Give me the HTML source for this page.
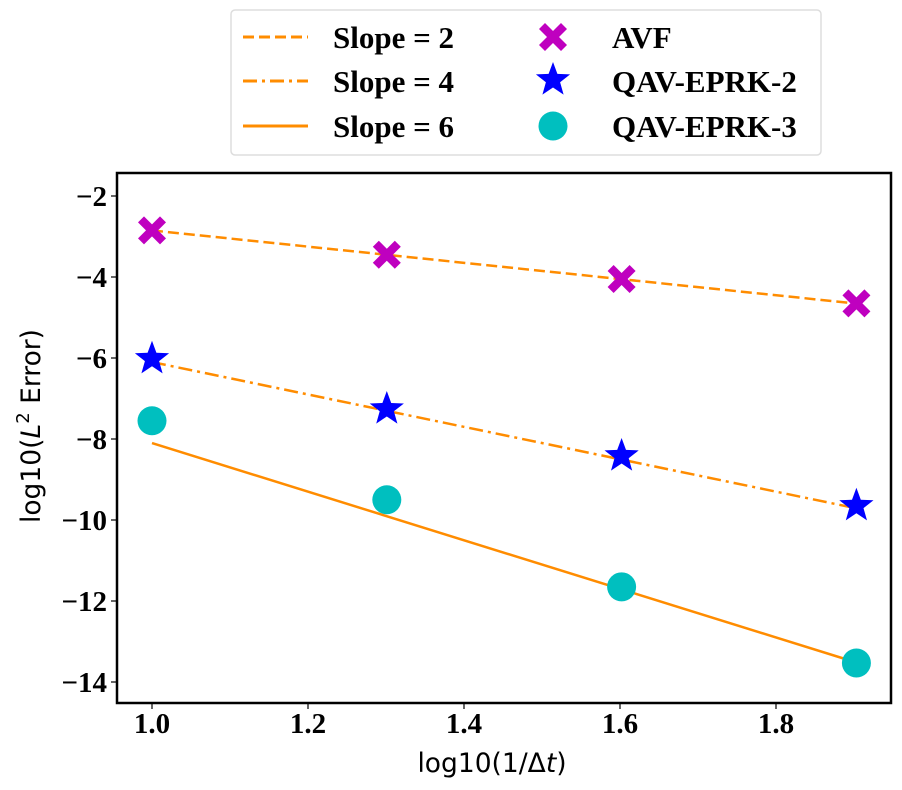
<!DOCTYPE html>
<html><head><meta charset="utf-8"><style>
html,body{margin:0;padding:0;background:#fff;}
svg{display:block;}
.tk{font-family:"Liberation Serif",serif;font-weight:bold;font-size:29px;fill:#000;}
.lg{font-family:"Liberation Serif",serif;font-weight:bold;font-size:31px;fill:#000;}
.al{font-family:"DejaVu Sans",sans-serif;font-size:26.5px;fill:#000;}
</style></head><body>
<svg id="chart" width="902" height="790" viewBox="0 0 902 790" xmlns="http://www.w3.org/2000/svg">
<rect x="0" y="0" width="902" height="790" fill="#fff"/>
<g id="plot"></g>
<rect x="117" y="173" width="774" height="530" fill="none" stroke="#000" stroke-width="2.5"/>
<g id="xt"></g>
<g id="yt"></g>
<text class="al" x="492" y="772" text-anchor="middle">log10(1/Δ<tspan font-style="italic">t</tspan>)</text>
<text class="al" transform="translate(40,426) rotate(-90)" text-anchor="middle">log10(<tspan font-style="italic">L</tspan><tspan dy="-11" font-size="18">2</tspan><tspan dy="11"> Error)</tspan></text>
<g>
<rect x="231" y="10" width="590" height="145" rx="4" fill="#fff" stroke="#ddd" stroke-width="1.5"/>
<g><line x1="243" y1="37" x2="308" y2="37" stroke="#ff8c00" stroke-width="3" stroke-dasharray="11,5"/><text class="lg" x="333" y="48">Slope = 2</text></g>
<g><line x1="243" y1="81" x2="308" y2="81" stroke="#ff8c00" stroke-width="3" stroke-dasharray="14,5,3,5"/><text class="lg" x="333" y="92">Slope = 4</text></g>
<g><line x1="243" y1="126" x2="308" y2="126" stroke="#ff8c00" stroke-width="3"/><text class="lg" x="333" y="137">Slope = 6</text></g>
<g id="lgm"></g>
<text class="lg" x="612" y="48">AVF</text>
<text class="lg" x="612" y="92">QAV-EPRK-2</text>
<text class="lg" x="612" y="137">QAV-EPRK-3</text>
</g>
</svg>
<script>
const xValues = [1.0, 1.30103, 1.60206, 1.90309];
const avf = [-2.85, -3.45, -4.05, -4.65];
const qav2 = [-6.02, -7.26, -8.42, -9.65];
const qav3 = [-7.55, -9.5, -11.65, -13.53];
const refSlopes = [2, 4, 6];
const refIntercepts = [-2.85, -6.1, -8.1];
const xTicks = [1.0, 1.2, 1.4, 1.6, 1.8];
const xTickLabels = ["1.0", "1.2", "1.4", "1.6", "1.8"];
const yTicks = [-2, -4, -6, -8, -10, -12, -14];
const yTickLabels = ["\u22122", "\u22124", "\u22126", "\u22128", "\u221210", "\u221212", "\u221214"];

const NS = "http://www.w3.org/2000/svg";
function X(v){ return 152 + (v - 1.0) * 780; }
function Y(v){ return 682 - (v + 14) * 40.5; }
function mk(tag, attrs, parent){ const e = document.createElementNS(NS, tag); for (const k in attrs) e.setAttribute(k, attrs[k]); parent.appendChild(e); return e; }
const plot = document.getElementById('plot');
const xt = document.getElementById('xt');
const yt = document.getElementById('yt');

xTicks.forEach((t, i) => {
  const l = mk('line', {x1: X(t), y1: 703, x2: X(t), y2: 709, stroke: '#000', 'stroke-width': 1.2}, xt);
  
  
  const tx = mk('text', {x: X(t), y: 733, 'text-anchor': 'middle', class: 'tk'}, xt);
  tx.textContent = xTickLabels[i];
  
  
});
yTicks.forEach((t, i) => {
  const l = mk('line', {x1: 111, y1: Y(t), x2: 117, y2: Y(t), stroke: '#000', 'stroke-width': 1.2}, yt);
  
  
  const tx = mk('text', {x: 107, y: Y(t) + 10, 'text-anchor': 'end', class: 'tk'}, yt);
  tx.textContent = yTickLabels[i];
  
  
});

const dashes = ['11,5', '14,5,3,5', 'none'];
refSlopes.forEach((s, i) => {
  const x0 = xValues[0], x1 = xValues[xValues.length - 1];
  const y0 = refIntercepts[i], y1 = refIntercepts[i] - s * (x1 - x0);
  const l = mk('line', {x1: X(x0), y1: Y(y0), x2: X(x1), y2: Y(y1), stroke: '#ff8c00', 'stroke-width': 2.5, 'stroke-dasharray': dashes[i]}, plot);
  
  
});

function cross(cx, cy, parent){
  const a = 14, w = 6;
  const p = `M${cx-a+w},${cy-a} L${cx},${cy-w} L${cx+a-w},${cy-a} L${cx+a},${cy-a+w} L${cx+w},${cy} L${cx+a},${cy+a-w} L${cx+a-w},${cy+a} L${cx},${cy+w} L${cx-a+w},${cy+a} L${cx-a},${cy+a-w} L${cx-w},${cy} L${cx-a},${cy-a+w} Z`;
  return mk('path', {d: p, fill: '#bf00bf'}, parent);
}
function star(cx, cy, parent){
  const R = 18, r = 7.5; let d = '';
  for (let k = 0; k < 10; k++) {
    const rad = k % 2 ? r : R, ang = -Math.PI / 2 + k * Math.PI / 5;
    d += (k ? 'L' : 'M') + (cx + rad * Math.cos(ang)).toFixed(1) + ',' + (cy + rad * Math.sin(ang)).toFixed(1);
  }
  return mk('path', {d: d + 'Z', fill: '#0000ff'}, parent);
}
function dot(cx, cy, parent){ return mk('circle', {cx: cx, cy: cy, r: 14.5, fill: '#00bfbf'}, parent); }

xValues.forEach((x, i) => {
  const a = cross(X(x), Y(avf[i]), plot);
  
  
  const b = star(X(x), Y(qav2[i]), plot);
  
  
  const c = dot(X(x), Y(qav3[i]), plot);
  
  
});

const lgm = document.getElementById('lgm');
const m1 = cross(553, 37, lgm);


const m2 = star(553, 80, lgm);


const m3 = dot(553, 126, lgm);


</script>
</body></html>
